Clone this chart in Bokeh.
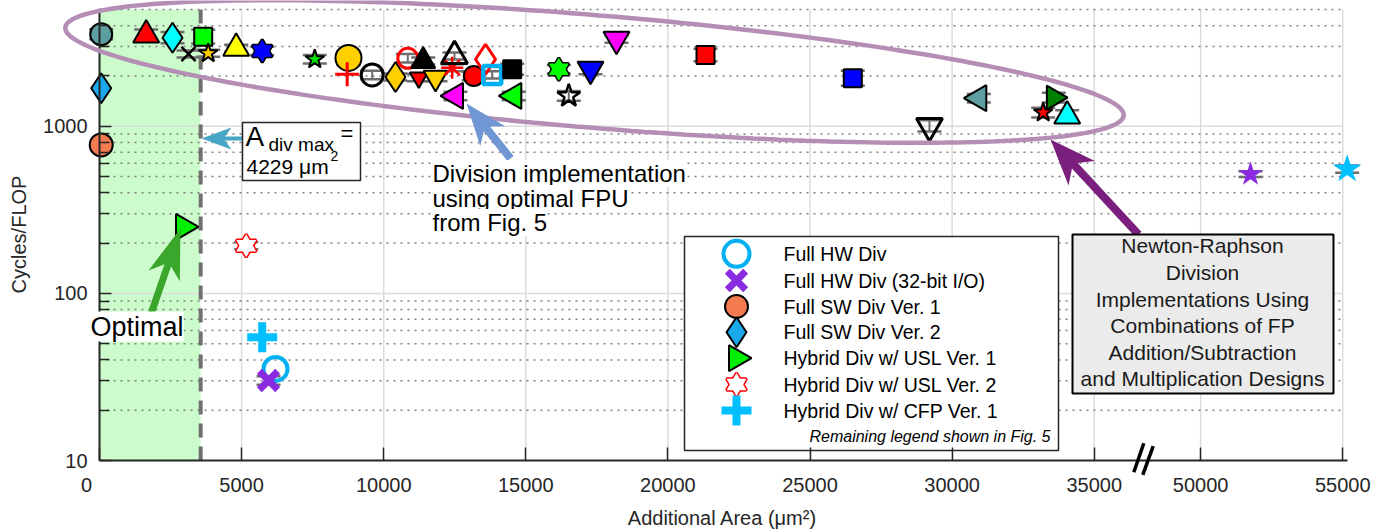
import math
import numpy as np
from bokeh.plotting import figure
from bokeh.models import (Range1d, FixedTicker, Label, BoxAnnotation, PolyAnnotation)
from bokeh.embed import file_html
from bokeh.resources import INLINE

# ---------------- data ----------------
# Designs whose legend is in Fig. 5: additional area (um^2) and cycles/FLOP
fig5_area = [60, 1643, 2569, 3132, 3649, 3825, 4810, 5725, 7575, 8761,
             8716, 9595, 10415, 10848, 11390, 11235, 11823, 12410, 12491, 12526,
             13170, 13582, 13818, 14521, 14578, 16161, 17277, 16513, 18191, 21323,
             26506, 29204, 30940, 33578, 33205, 34050, 51755, 55157]
fig5_cycles = [3556, 3517, 3390, 2709, 3437, 2735, 2930, 2824, 2518, 2564,
               2048, 2030, 1973, 2553, 2460, 1955, 1955, 2243, 2636, 1520,
               2001, 2518, 2030, 2194, 1520, 2194, 2194, 1520, 3318, 2672,
               1938, 1005, 1472, 1485, 1208, 1154, 517, 554]
# relative half-height of the grey error caps (0 = no caps)
fig5_err = [0.07, 0.08, 0.08, 0.05, 0.10, 0.05, 0.05, 0.06, 0.06, 0.10,
            0.00, 0.06, 0.05, 0.06, 0.05, 0.05, 0.05, 0.05, 0.05, 0.06,
            0.06, 0.00, 0.05, 0.08, 0.06, 0.06, 0.07, 0.07, 0.05, 0.09,
            0.11, 0.08, 0.06, 0.07, 0.07, 0.08, 0.04, 0.05]

# styles of the Fig. 5 designs
fig5_marker = ["circle", "tri_up", "diamond", "x", "square", "star", "tri_up", "hexagram", "star", "circle",
               "cross", "circle", "diamond", "circle", "tri_up", "tri_down", "tri_down", "asterisk", "tri_up", "tri_left",
               "circle", "diamond", "square", "square", "tri_left", "hexagram", "tri_down", "star", "tri_down", "square",
               "square", "tri_down", "tri_left", "tri_right", "star", "tri_up", "star", "star"]
fig5_fill = ["#5f9ea0", "#ff0000", "#00ffff", None, "#00ff00", "#ffc800", "#ffff00", "#0000ff", "#00e000", "#ffd000",
             None, None, "#ffd000", None, "#000000", "#ff0000", "#ffd000", None, None, "#ff00ff",
             "#ff0000", None, None, "#000000", "#00ff00", "#00ff00", "#0000ff", None, "#ff00ff", "#ff0000",
             "#0000ff", None, "#5f9ea0", "#008000", "#ff0000", "#00ffff", "#8a2be2", "#00bfff"]
fig5_edge = ["black"] * 10 + ["red", "black", "black", "red", "black", "black", "black", "red", "black", "black",
                              "black", "red", "#00b0f0", "black", "black", "black", "black", "black", "black", "black",
                              "black", "black", "black", "black", "black", "black", None, None]
fig5_lw = [2, 2, 2, 2.5, 2, 2, 2, 3, 2, 2,
           3, 3, 2, 3, 2, 2, 2, 2.5, 3, 2,
           2, 3, 4.5, 2, 2, 3, 2, 2.5, 2, 2,
           2, 3, 2, 2, 2, 2, 0, 0]
fig5_size = [22, 26, 30, 20, 18, 20, 26, 20, 20, 26,
             24, 22, 30, 20, 24, 18, 24, 22, 26, 26,
             20, 30, 18, 18, 26, 20, 26, 24, 26, 18,
             18, 26, 26, 24, 20, 26, 26, 30]

# Division designs with their own legend
legend_labels = ["Full HW Div", "Full HW Div (32-bit I/O)", "Full SW Div Ver. 1",
                 "Full SW Div Ver. 2", "Hybrid Div w/ USL Ver. 1",
                 "Hybrid Div w/ USL Ver. 2", "Hybrid Div w/ CFP Ver. 1"]
div_area = [[6193], [5947], [60], [60], [2956], [5162], [5725]]
div_cycles = [[35.3], [30.1], [774], [1690], [250], [193], [54.6]]
div_err = [[0.0], [0.06], [0.0], [0.0], [0.0], [0.05], [0.0]]
div_marker = ["circle", "x", "circle", "diamond", "tri_right", "hexagram", "cross"]
div_fill = [None, None, "#f47a50", "#1aa7ec", "#00ee00", "white", None]
div_edge = ["#00b0f0", "#8a2be2", "black", "black", "black", "#ff0000", "#00bfff"]
div_lw = [4, 7, 2, 2, 2, 3, 8]
div_size = [24, 26, 23, 30, 26, 20, 30]

adiv_max_x = 3560          # dashed boundary (display position)
x_ticks = [0, 5000, 10000, 15000, 20000, 25000, 30000, 35000, 50000, 55000]
y_major = [10, 100, 1000]
y_minor = [20, 30, 40, 50, 60, 70, 80, 90, 200, 300, 400, 500, 600, 700, 800, 900,
           2000, 3000, 4000, 5000]
y_lo, y_hi = 10, 5000

# axis break: values above BREAK_AT are shifted left by BREAK_SHIFT
BREAK_AT = 40000
BREAK_SHIFT = 11255


def disp(a):
    return [v - BREAK_SHIFT if v > BREAK_AT else v for v in a]


# ---------------- figure (frame = whole canvas) ----------------
W, H = 1386, 531
AX_L, AX_B = 99, 460            # axis origin in pixels
KX = (1093.7 - 99) / 35000      # px per um^2
DEC = 451 / math.log10(500)     # px per decade
X_START, X_END = -AX_L / KX, (W - AX_L) / KX
LY0, LY1 = 1 - (H - AX_B) / DEC, 1 + AX_B / DEC
X_AXIS_END = 43900

p = figure(width=W, height=H, x_range=Range1d(X_START, X_END),
           y_range=Range1d(10 ** LY0, 10 ** LY1), y_axis_type="log",
           output_backend="svg", toolbar_location=None, min_border=0)
p.outline_line_color = None
p.background_fill_color = "white"
p.border_fill_color = "white"


def dx(px):
    return X_START + px / W * (X_END - X_START)


def dy(py):
    return 10 ** (LY0 + (H - py) / H * (LY1 - LY0))


FONT = "Liberation Sans"
TXT = "#262626"

xt_disp = disp(x_ticks)
p.xaxis.ticker = FixedTicker(ticks=xt_disp)
p.xaxis.fixed_location = y_lo
p.xaxis.bounds = (0, X_AXIS_END)
p.xaxis.major_tick_in = 13
p.yaxis.ticker = FixedTicker(ticks=y_major, minor_ticks=y_minor)
p.yaxis.fixed_location = 0
p.yaxis.bounds = (y_lo, y_hi)
p.yaxis.major_tick_in = 12
p.yaxis.minor_tick_in = 10
for ax in (p.xaxis, p.yaxis):
    ax.major_label_text_font_size = "0px"
    ax.major_label_standoff = 0
    ax.major_tick_out = 0
    ax.minor_tick_out = 0
    ax.axis_line_color = TXT
    ax.axis_line_width = 2
    ax.major_tick_line_color = TXT
    ax.major_tick_line_width = 1.5
    ax.minor_tick_line_color = TXT
    ax.minor_tick_line_width = 1.5
p.xaxis.minor_tick_line_color = None
p.xaxis.major_label_overrides = {t: "" for t in xt_disp}
p.yaxis.major_label_overrides = {t: "" for t in y_major}
p.xgrid.grid_line_color = None
p.ygrid.grid_line_color = None

# tick labels and axis titles
for t, lab in zip(xt_disp, x_ticks):
    p.add_layout(Label(x=t, y=dy(484), text=str(lab), text_font=FONT, text_font_size="20px",
                       text_color=TXT, text_align="center", text_baseline="middle",
                       x_offset=-13 if lab == 0 else 0))
for v in y_major:
    p.add_layout(Label(x=dx(87), y=v, text=str(v), text_font=FONT, text_font_size="20px",
                       text_color=TXT, text_align="right", text_baseline="middle"))
p.add_layout(Label(x=dx(722), y=dy(517), text="Additional Area (μm²)", text_font=FONT,
                   text_font_size="20px", text_color=TXT, text_align="center",
                   text_baseline="middle"))
p.add_layout(Label(x=dx(18), y=dy(234), text="Cycles/FLOP", angle=math.pi / 2,
                   text_font=FONT, text_font_size="20px", text_color=TXT,
                   text_align="center", text_baseline="middle"))

# green optimal region
p.add_layout(BoxAnnotation(left=0, right=adiv_max_x, bottom=y_lo, top=y_hi,
                           fill_color="#ccfccc", fill_alpha=1, line_color=None,
                           level="image"))

# grid lines
gx_end = xt_disp[-1]
p.multi_line(xs=[[t, t] for t in xt_disp[1:]], ys=[[y_lo, y_hi] for _ in xt_disp[1:]],
             line_color="#dcdcdc", line_width=1.5)
p.multi_line(xs=[[0, gx_end] for _ in y_minor], ys=[[v, v] for v in y_minor],
             line_color="#808080", line_width=1.5, line_dash="2 5")
p.multi_line(xs=[[0, gx_end] for _ in y_major[1:]], ys=[[v, v] for v in y_major[1:]],
             line_color="#dcdcdc", line_width=1.5)

# dashed A_div max line
p.segment(x0=[adiv_max_x], y0=[y_lo], x1=[adiv_max_x], y1=[y_hi],
          line_color="#707070", line_width=4, line_dash="14 9")

CAP = "#6e6e6e"


def caps(xs, ys, errs):
    xd = disp(xs)
    sel = [i for i, e in enumerate(errs) if e > 0]
    if not sel:
        return
    x = [xd[i] for i in sel]
    hi = [ys[i] * (1 + errs[i]) for i in sel]
    lo = [ys[i] / (1 + errs[i]) for i in sel]
    p.segment(x0=x, y0=lo, x1=x, y1=hi, line_color=CAP, line_width=2)
    p.scatter(x + x, hi + lo, marker="dash", size=24, line_color=CAP, line_width=2.5)


def draw(xs, ys, kind, fill, edge, size, lw):
    if kind == "hexagram":
        for m in ("triangle", "inverted_triangle"):
            p.scatter(xs, ys, marker=m, size=size, fill_color=None,
                      line_color=edge, line_width=lw)
        for m in ("triangle", "inverted_triangle"):
            p.scatter(xs, ys, marker=m, size=size, fill_color=fill or "white",
                      line_color=None)
        return
    m, ang = {"tri_up": ("triangle", 0.0), "tri_down": ("inverted_triangle", 0.0),
              "tri_left": ("triangle", math.pi / 2), "tri_right": ("triangle", -math.pi / 2)
              }.get(kind, (kind, 0.0))
    p.scatter(xs, ys, marker=m, size=size, angle=ang, fill_color=fill,
              line_color=edge, line_width=lw if edge else 0)


caps(fig5_area, fig5_cycles, fig5_err)
for a, c, e in zip(div_area, div_cycles, div_err):
    caps(a, c, e)

fx = disp(fig5_area)
for i in range(len(fig5_area)):
    draw([fx[i]], [fig5_cycles[i]], fig5_marker[i], fig5_fill[i], fig5_edge[i],
         fig5_size[i], fig5_lw[i])
for k in range(len(legend_labels)):
    draw(disp(div_area[k]), div_cycles[k], div_marker[k], div_fill[k], div_edge[k],
         div_size[k], div_lw[k])

# ---------------- legend (drawn by hand) ----------------
LEG_L, LEG_R, LEG_T, LEG_B = 684, 1058, 236, 450
p.rect(x=[dx((LEG_L + LEG_R) / 2)], y=[dy((LEG_T + LEG_B) / 2)],
       width=LEG_R - LEG_L, height=LEG_B - LEG_T, width_units="screen",
       height_units="screen", fill_color="white", line_color="#262626", line_width=1.5)
row_y = [253.3, 280, 306, 331.7, 357.7, 384, 410]
for k, lab in enumerate(legend_labels):
    draw([dx(736)], [dy(row_y[k])], div_marker[k], div_fill[k], div_edge[k],
         div_size[k] + (2 if div_marker[k] == "circle" and div_fill[k] is None else 0), div_lw[k])
    p.add_layout(Label(x=dx(783), y=dy(row_y[k]), text=lab, text_font=FONT,
                       text_font_size="19.5px", text_color="black", text_baseline="middle"))
p.add_layout(Label(x=dx(1050), y=dy(436), text="Remaining legend shown in Fig. 5",
                   text_font=FONT, text_font_size="16px", text_font_style="italic",
                   text_color="black", text_align="right", text_baseline="middle"))

# ---------------- annotations ----------------
t = np.linspace(0, 2 * np.pi, 241)
th = math.radians(4.75)
ecx, ecy, ea, eb = 594, 71, 531, 56.3
ex = ecx + ea * np.cos(t) * math.cos(th) - eb * np.sin(t) * math.sin(th)
ey = ecy + ea * np.cos(t) * math.sin(th) + eb * np.sin(t) * math.cos(th)
p.add_layout(PolyAnnotation(xs=[dx(v) for v in ex], ys=[dy(v) for v in ey],
                            fill_color=None, fill_alpha=0, line_color="#b48eb4",
                            line_alpha=1, line_width=4.5))


def poly(pts, color):
    p.add_layout(PolyAnnotation(xs=[dx(a) for a, _ in pts], ys=[dy(b) for _, b in pts],
                                fill_color=color, fill_alpha=1, line_color=None))


def arrow(tail, tip, color, sw, hl, hw, notch=0.22):
    tx, ty = tail
    px_, py_ = tip
    L = math.hypot(px_ - tx, py_ - ty)
    ux, uy = (px_ - tx) / L, (py_ - ty) / L
    nx, ny = -uy, ux
    bx, by = px_ - ux * hl, py_ - uy * hl
    mx, my = px_ - ux * hl * (1 - notch), py_ - uy * hl * (1 - notch)
    poly([(tx + nx * sw / 2, ty + ny * sw / 2), (mx + nx * sw / 2, my + ny * sw / 2),
          (bx + nx * hw / 2, by + ny * hw / 2), (px_, py_),
          (bx - nx * hw / 2, by - ny * hw / 2), (mx - nx * sw / 2, my - ny * sw / 2),
          (tx - nx * sw / 2, ty - ny * sw / 2)], color)


arrow((243, 138), (201, 138), "#46a6c5", 4, 30, 22)
arrow((151, 312), (180, 228), "#3aa62b", 7, 50, 33)
arrow((510, 158), (466, 103), "#7097d3", 8, 42, 32)
arrow((1138, 234), (1050, 139), "#7b1f7f", 8, 46, 36)


def seg(p1, p2, w, color):
    (x1, y1), (x2, y2) = p1, p2
    L = math.hypot(x2 - x1, y2 - y1)
    nx, ny = -(y2 - y1) / L * w / 2, (x2 - x1) / L * w / 2
    poly([(x1 + nx, y1 + ny), (x2 + nx, y2 + ny), (x2 - nx, y2 - ny), (x1 - nx, y1 - ny)], color)


# axis break marks
seg((1133.3, 471.7), (1143.3, 442.7), 3.5, "black")
seg((1142.3, 474.3), (1152.7, 445.7), 3.5, "black")

# A_div max box
p.add_layout(BoxAnnotation(left=dx(242), right=dx(360), top=dy(122), bottom=dy(180),
                           fill_color="white", fill_alpha=1, line_color="#262626",
                           line_alpha=1, line_width=1.5))
for txt, x, y, fs in [("A", 245, 136, "28px"), ("div max", 268, 144, "19px"),
                      ("=", 340, 133, "22px"), ("4229 μm", 246, 166, "21px"),
                      ("2", 330, 155, "14px")]:
    p.add_layout(Label(x=dx(x), y=dy(y), text=txt, text_font=FONT, text_font_size=fs,
                       text_color="black", text_baseline="middle"))

# Newton-Raphson box
p.add_layout(BoxAnnotation(left=dx(1072), right=dx(1333), top=dy(234), bottom=dy(393),
                           fill_color="#ebebeb", fill_alpha=1, line_color="black",
                           line_alpha=1, line_width=2))
nr_lines = ["Newton-Raphson", "Division", "Implementations Using", "Combinations of FP",
            "Addition/Subtraction", "and Multiplication Designs"]
nr_y = [245, 271.7, 299, 325, 351.7, 378.3]
for txt, y in zip(nr_lines, nr_y):
    p.add_layout(Label(x=dx(1202), y=dy(y), text=txt, text_font=FONT, text_font_size="21px",
                       text_color="#1a1a1a", text_align="center", text_baseline="middle"))

# Division implementation note
for txt, y in zip(["Division implementation", "using optimal FPU", "from Fig. 5"],
                  [173, 198, 222]):
    p.add_layout(Label(x=dx(432), y=dy(y), text=txt, text_font=FONT, text_font_size="24px",
                       text_color="black", text_baseline="middle",
                       background_fill_color="white"))

# Optimal
p.add_layout(Label(x=dx(90), y=dy(326), text="Optimal", text_font=FONT, text_font_size="27px",
                   text_color="black", text_baseline="middle",
                   background_fill_color="white"))

open("out.html", "w").write(file_html(p, INLINE))
